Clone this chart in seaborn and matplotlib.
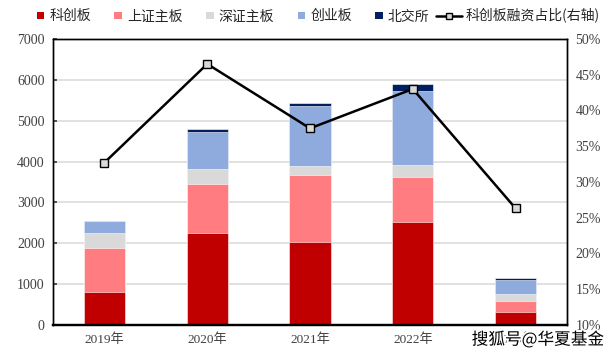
import numpy as np
import pandas as pd
import matplotlib
matplotlib.use('Agg')
import matplotlib.pyplot as plt
import matplotlib.patheffects as pe
from matplotlib.lines import Line2D
from matplotlib.patches import Patch, Rectangle
from matplotlib.legend_handler import HandlerPatch
import seaborn as sns

# ---- data ----
years = ['2019年', '2020年', '2021年', '2022年', '2023年']
star = [815, 2244, 2039, 2521, 310]        # 科创板
sh_main = [1077, 1199, 1632, 1093, 270]    # 上证主板
sz_main = [352, 375, 220, 302, 179]        # 深证主板
chinext = [294, 898, 1477, 1811, 342]      # 创业板
bse = [0, 89, 73, 164, 57]                 # 北交所
star_share = [32.7, 46.5, 37.5, 43.0, 26.3]  # 科创板融资占比(%)

series_names = ['科创板', '上证主板', '深证主板', '创业板', '北交所']
colors = ['#C00000', '#FF7C80', '#D9D9D9', '#8FAADC', '#002060']


class SmallSquare(HandlerPatch):
    # small square marker in the legend, independent of handlelength
    def create_artists(self, legend, orig_handle, xdescent, ydescent,
                       width, height, fontsize, trans):
        s = fontsize * 0.55
        p = Rectangle((width - s - 1, (height - s) / 2 - ydescent), s, s,
                      facecolor=orig_handle.get_facecolor(), edgecolor='none',
                      transform=trans)
        return [p]


sns.set_theme(style='white')
plt.rcParams['font.family'] = ['Liberation Serif', 'Noto Sans CJK SC', 'DejaVu Sans']
plt.rcParams['axes.unicode_minus'] = False

df = pd.DataFrame({'year': years, '科创板': star, '上证主板': sh_main,
                   '深证主板': sz_main, '创业板': chinext, '北交所': bse})
cum = df[series_names].cumsum(axis=1)

fig = plt.figure(figsize=(6.13, 3.54), dpi=100)
ax = fig.add_axes([0.0865, 0.082, 0.8385, 0.808])

# stacked bars: draw cumulative totals from top layer down
for name, col in reversed(list(zip(series_names, colors))):
    sns.barplot(x=df['year'], y=cum[name], color=col, width=0.4,
                saturation=1, ax=ax, zorder=2, edgecolor='white', linewidth=0.4)

ax.set_ylim(0, 7000)
ax.set_yticks(range(0, 7001, 1000))
ax.set_xlim(-0.5, 4.5)
ax.set_xlabel('')
ax.set_ylabel('')
ax.yaxis.grid(True, color='#D9D9D9', linewidth=1.1, zorder=0)
ax.set_axisbelow(True)
for s in ax.spines.values():
    s.set_color('black')
    s.set_linewidth(1.0)
ax.spines['bottom'].set_linewidth(1.6)
ax.tick_params(axis='x', which='major', length=0, pad=6, labelsize=9.5, colors='#404040')
ax.set_xticks([0.5, 1.5, 2.5, 3.5], minor=True)
ax.tick_params(axis='x', which='minor', length=4, width=1, direction='out', color='black')
ax.tick_params(axis='y', length=3, direction='in', labelsize=10, colors='#404040', pad=6)

# share line on right axis
ax2 = ax.twinx()
sns.pointplot(x=years, y=star_share, color='black', markers='s', ax=ax2,
              linewidth=1.8, markersize=5.5, markerfacecolor='#D9D9D9',
              markeredgecolor='black', markeredgewidth=1.0, zorder=5)
ax2.set_ylim(10, 50)
ax2.set_yticks(range(10, 51, 5))
ax2.set_yticklabels([f'{v}%' for v in range(10, 51, 5)])
ax2.set_xlim(-0.5, 4.5)
ax2.set_ylabel('')
ax2.tick_params(axis='y', length=0, labelsize=10, colors='#404040', pad=6)
for s in ax2.spines.values():
    s.set_color('black')
    s.set_linewidth(1.0)
ax2.spines['bottom'].set_linewidth(1.6)

# legend
handles = [Patch(facecolor=c, edgecolor='none') for c in colors]
handles.append(Line2D([0], [0], color='black', lw=1.8, marker='s', markersize=5,
                      markerfacecolor='#D9D9D9', markeredgecolor='black'))
labels = series_names + ['科创板融资占比(右轴)']
fig.legend(handles, labels, loc='center', bbox_to_anchor=(0.505, 0.955), ncol=6,
           frameon=False, handlelength=1.9, handletextpad=0.25, columnspacing=0.45,
           handler_map={Patch: SmallSquare()},
           prop={'family': ['Noto Sans CJK SC', 'DejaVu Sans'], 'size': 10})

# watermark
fig.text(0.985, 0.04, '搜狐号@华夏基金', ha='right', va='center', fontsize=12,
         family=['Noto Sans CJK SC', 'DejaVu Sans'], color='black',
         path_effects=[pe.withStroke(linewidth=2.5, foreground='white')])

fig.savefig('out.png', dpi=100)
